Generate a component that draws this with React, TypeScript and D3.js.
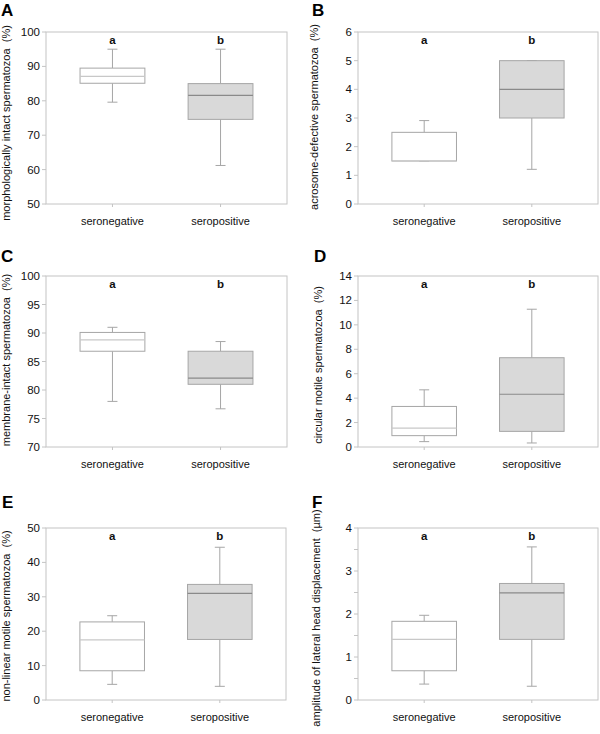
import React from "react";
import * as d3 from "d3";

const categories = ["seronegative", "seropositive"];
const panelLetters = ["A", "B", "C", "D", "E", "F"];
const yLabels = [
  "morphologically intact spermatozoa  (%)",
  "acrosome-defective spermatozoa  (%)",
  "membrane-intact spermatozoa  (%)",
  "circular motile spermatozoa  (%)",
  "non-linear motile spermatozoa  (%)",
  "amplitude of lateral head displacement  (µm)",
];
const groupLetters = ["a", "b"];

// [min, q1, median, q3, max] per category
const morphIntact = [
  [79.6, 85.1, 87.1, 89.5, 95],
  [61.2, 74.6, 81.6, 85, 95],
];
const acrosomeDefective = [
  [1.5, 1.5, 1.5, 2.5, 2.91],
  [1.21, 3.0, 4.0, 5.0, 5.0],
];
const membraneIntact = [
  [78.0, 86.8, 88.8, 90.1, 91.0],
  [76.7, 81.0, 82.1, 86.8, 88.5],
];
const circularMotile = [
  [0.44, 0.93, 1.55, 3.32, 4.68],
  [0.33, 1.28, 4.32, 7.31, 11.28],
];
const nonLinearMotile = [
  [4.55, 8.5, 17.5, 22.7, 24.5],
  [3.97, 17.6, 31.0, 33.6, 44.4],
];
const alhAmplitude = [
  [0.37, 0.68, 1.41, 1.83, 1.97],
  [0.32, 1.41, 2.49, 2.71, 3.56],
];

const yDomains = [
  [50, 100],
  [0, 6],
  [70, 100],
  [0, 14],
  [0, 50],
  [0, 4],
];
const yTickValues = [
  [50, 60, 70, 80, 90, 100],
  [0, 1, 2, 3, 4, 5, 6],
  [70, 75, 80, 85, 90, 95, 100],
  [0, 2, 4, 6, 8, 10, 12, 14],
  [0, 10, 20, 30, 40, 50],
  [0, 0.5, 1, 1.5, 2, 2.5, 3, 3.5, 4],
];
const yTickLabels = [
  ["50", "60", "70", "80", "90", "100"],
  ["0", "1", "2", "3", "4", "5", "6"],
  ["70", "75", "80", "85", "90", "95", "100"],
  ["0", "2", "4", "6", "8", "10", "12", "14"],
  ["0", "10", "20", "30", "40", "50"],
  ["0", "", "1", "", "2", "", "3", "", "4"],
];
const panelStats = [morphIntact, acrosomeDefective, membraneIntact, circularMotile, nonLinearMotile, alhAmplitude];

// layout (positions only)
const layouts = [
  { x0: 46, x1: 287, y0: 32, y1: 204, lx: 10, ly: 123, tx: 1, ty: 16 },
  { x0: 358, x1: 598, y0: 32, y1: 204, lx: 318, ly: 117, tx: 312, ty: 16 },
  { x0: 46, x1: 287, y0: 276, y1: 447, lx: 10, ly: 360, tx: 1, ty: 262 },
  { x0: 358, x1: 598, y0: 276, y1: 447, lx: 322, ly: 365, tx: 314, ty: 262 },
  { x0: 46, x1: 286, y0: 528, y1: 700, lx: 10, ly: 616, tx: 2, ty: 508 },
  { x0: 358, x1: 598, y0: 528, y1: 700, lx: 320, ly: 618, tx: 312, ty: 508 },
];

const FONT = "Liberation Sans, Arial, Helvetica, sans-serif";
const frameColor = "#c4c4c4";
const boxStroke = "#a6a6a6";
const whiskerColor = "#a6a6a6";
const fills = ["#ffffff", "#d9d9d9"];
const medianColors = ["#c8c8c8", "#8a8a8a"];

function Panel({ idx }: { idx: number }) {
  const L = layouts[idx];
  const stats = panelStats[idx];
  const y = d3.scaleLinear().domain(yDomains[idx]).range([L.y1, L.y0]);
  const x = d3.scalePoint<string>().domain(categories).range([L.x0, L.x1]).padding(0.615);
  const step = x.step();
  const boxW = step * 0.6;
  const capW = 10;
  return (
    <g>
      <text x={L.tx} y={L.ty} fontFamily={FONT} fontWeight="bold" fontSize={17} fill="#000">
        {panelLetters[idx]}
      </text>
      <text
        transform={`translate(${L.lx},${L.ly}) rotate(-90)`}
        textAnchor="middle"
        fontFamily={FONT}
        fontSize={11}
        fill="#111"
        style={{ whiteSpace: "pre" }}
      >
        {yLabels[idx]}
      </text>
      {/* y ticks */}
      {yTickValues[idx].map((v, i) => (
        <g key={"yt" + i}>
          <line x1={L.x0 - 4} x2={L.x0} y1={y(v)} y2={y(v)} stroke={frameColor} strokeWidth={1} />
          {yTickLabels[idx][i] !== "" && (
            <text
              x={L.x0 - 6}
              y={y(v)}
              dy="0.35em"
              textAnchor="end"
              fontFamily={FONT}
              fontSize={11.5}
              fill="#111"
            >
              {yTickLabels[idx][i]}
            </text>
          )}
        </g>
      ))}
      {/* frame */}
      <rect x={L.x0} y={L.y0} width={L.x1 - L.x0} height={L.y1 - L.y0} fill="none" stroke={frameColor} strokeWidth={1} />
      {categories.map((c, ci) => {
        const cx = x(c) as number;
        const [mn, q1, md, q3, mx] = stats[ci];
        return (
          <g key={c}>
            <line x1={cx} x2={cx} y1={L.y1} y2={L.y1 + 3} stroke={frameColor} />
            <line x1={cx} x2={cx} y1={y(mx)} y2={y(q3)} stroke={whiskerColor} />
            <line x1={cx} x2={cx} y1={y(q1)} y2={y(mn)} stroke={whiskerColor} />
            <line x1={cx - capW / 2} x2={cx + capW / 2} y1={y(mx)} y2={y(mx)} stroke={whiskerColor} />
            <line x1={cx - capW / 2} x2={cx + capW / 2} y1={y(mn)} y2={y(mn)} stroke={whiskerColor} />
            <rect
              x={cx - boxW / 2}
              y={y(q3)}
              width={boxW}
              height={y(q1) - y(q3)}
              fill={fills[ci]}
              stroke={boxStroke}
              strokeWidth={1}
            />
            <line x1={cx - boxW / 2} x2={cx + boxW / 2} y1={y(md)} y2={y(md)} stroke={medianColors[ci]} strokeWidth={1.2} />
            <text x={cx} y={L.y1 + 21} textAnchor="middle" fontFamily={FONT} fontSize={11} fill="#111">
              {c}
            </text>
            <text x={cx} y={L.y0 + 12} textAnchor="middle" fontFamily={FONT} fontSize={11.5} fontWeight="bold" fill="#111">
              {groupLetters[ci]}
            </text>
          </g>
        );
      })}
    </g>
  );
}

export default function App() {
  return (
    <svg
      width={600}
      height={734}
      viewBox="0 0 600 734"
      style={{ position: "absolute", left: 0, top: 0, background: "#fff" }}
    >
      <rect x={0} y={0} width={600} height={734} fill="#fff" />
      {panelLetters.map((_, i) => (
        <Panel key={i} idx={i} />
      ))}
    </svg>
  );
}
